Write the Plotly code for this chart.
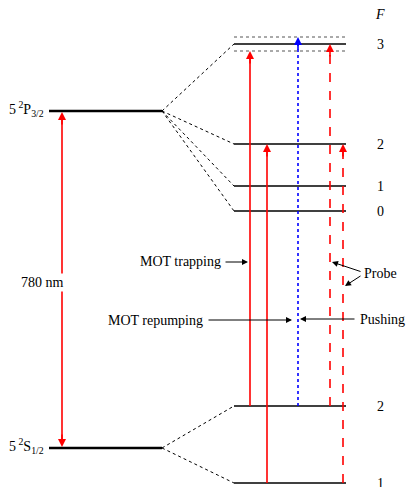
import plotly.graph_objects as go

# fine-structure levels (name, y)
fine_names = ["5<sup> 2</sup>P<sub>3/2</sub>", "5<sup> 2</sup>S<sub>1/2</sub>"]
fine_y = [111, 448]
# hyperfine levels
hf_labels = ["3", "2", "1", "0", "2", "1"]
hf_y = [44, 144, 186, 211, 406, 483]
hf_parent = [0, 0, 0, 0, 1, 1]
# dotted linewidth lines around F'=3
f3_band = [37, 51]
# transitions: (x, y_from, y_to, color, dash)
tr_x = [250, 267, 298, 330, 343]
tr_from = [406, 483, 406, 406, 483]
tr_to = [51, 144, 37, 44, 144]
tr_color = ["red", "red", "blue", "red", "red"]
tr_dash = ["solid", "solid", "dot", "dash", "dash"]

FX0, FX1 = 49, 162
HX0, HX1 = 234, 346
fig = go.Figure()
def line(xs, ys, color="black", width=1.2, dash="solid"):
    fig.add_trace(go.Scatter(x=xs, y=ys, mode="lines", line=dict(color=color, width=width, dash=dash),
                             hoverinfo="skip", showlegend=False))

for y in fine_y:
    line([FX0, FX1], [y, y], width=2.5)
for y, p in zip(hf_y, hf_parent):
    line([HX0, HX1], [y, y], width=1.3)
    line([FX1, HX0], [fine_y[p], y], width=1, dash="dot")
for y in f3_band:
    line([HX0, HX1], [y, y], color="#555", width=1, dash="dot")
for x, a, b, c, d in zip(tr_x, tr_from, tr_to, tr_color, tr_dash):
    line([x, x], [a, b + 4], color=c, width=1.6, dash=d)

ann = []
def arrow(x, y, ax, ay, color="black", width=1, size=1.2, head=2):
    ann.append(dict(x=x, y=y, ax=ax, ay=ay, xref="x", yref="y", axref="x", ayref="y", text="",
                    showarrow=True, arrowhead=head, arrowsize=size, arrowwidth=width, arrowcolor=color))
for x, a, b, c in zip(tr_x, tr_from, tr_to, tr_color):
    arrow(x, b, x, b + 14, color=c, width=1.6, size=1.0)
# 780 nm double arrow
line([62, 62], [118, 441], color="red", width=1.6)
arrow(62, 112, 62, 126, color="red", width=1.6, size=1.0)
arrow(62, 447, 62, 433, color="red", width=1.6, size=1.0)

F = dict(family="Liberation Serif", size=14, color="black")
def text(x, y, s, anchor="center", bg="rgba(0,0,0,0)"):
    ann.append(dict(x=x, y=y, xref="x", yref="y", text=s, showarrow=False, xanchor=anchor, font=F,
                    bgcolor=bg))
for s, y in zip(fine_names, fine_y):
    text(46, y - 2, s, "right")
for s, y in zip(hf_labels, hf_y):
    text(380, y, s)
text(380, 14, "<i>F</i>")
text(42, 282, "780 nm", bg="white")
text(223, 261, "MOT trapping", "right")
arrow(248, 262, 224, 262)
text(205, 320, "MOT repumping", "right")
arrow(292, 320, 207, 320)
text(358, 319, "Pushing", "left")
arrow(300, 319, 356, 319)
text(362, 273, "Probe", "left")
arrow(332, 262, 362, 272)
arrow(345, 286, 362, 275)

# the page body has an 8px margin: figure spans page pixels 8..415 / 8..487
fig.update_layout(width=407, height=479, margin=dict(l=0, r=0, t=0, b=0), plot_bgcolor="white",
                  paper_bgcolor="white", annotations=ann,
                  xaxis=dict(range=[8, 415], visible=False, fixedrange=True),
                  yaxis=dict(range=[487, 8], visible=False, fixedrange=True))
fig.write_html("out.html")
